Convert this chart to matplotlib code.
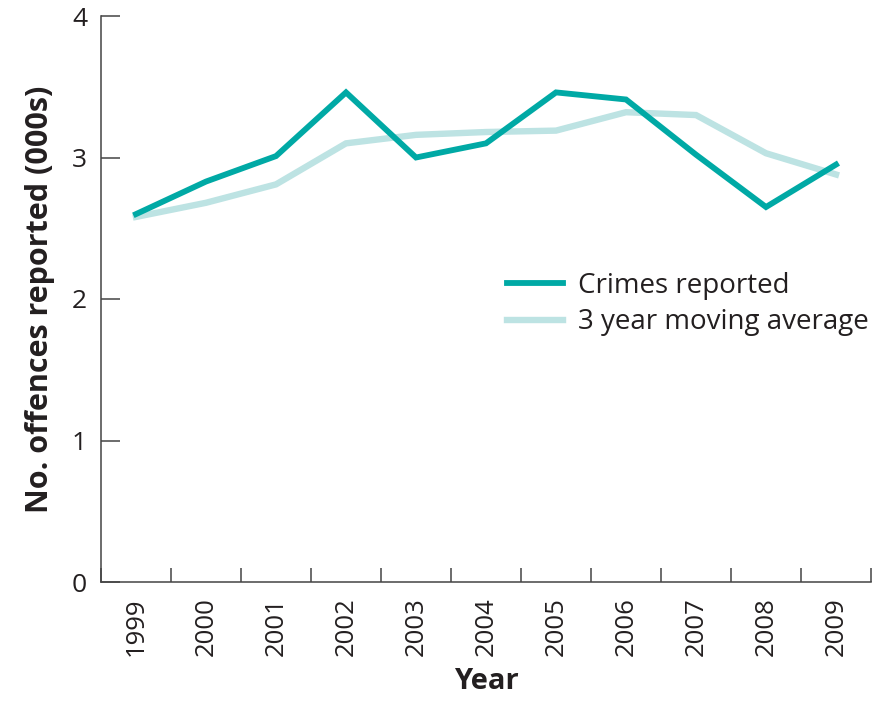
import matplotlib
matplotlib.use("Agg")
import matplotlib.pyplot as plt
import numpy as np

years = ["1999", "2000", "2001", "2002", "2003", "2004", "2005", "2006", "2007", "2008", "2009"]
crimes = [2.60, 2.83, 3.01, 3.46, 3.00, 3.10, 3.46, 3.41, 3.02, 2.65, 2.95]
moving_avg = [2.58, 2.68, 2.81, 3.10, 3.16, 3.18, 3.19, 3.32, 3.30, 3.03, 2.88]
yticks = [0, 1, 2, 3, 4]

plt.rcParams['font.family'] = ['Open Sans', 'DejaVu Sans']

fig = plt.figure(figsize=(8.94, 7.07), dpi=100)
ax = fig.add_axes([101/894, 1-582/707, 770/894, 566/707])

x = np.arange(len(years))
ax.plot(x, moving_avg, color='#bde3e3', lw=4.6, solid_joinstyle='miter', label='3 year moving average', zorder=2)
ax.plot(x, crimes, color='#00a9a5', lw=4.2, solid_joinstyle='miter', label='Crimes reported', zorder=3)

ax.set_xlim(-0.5, len(years) - 0.5)
ax.set_ylim(0, 4)
ax.set_yticks(yticks)
ax.set_yticklabels([str(t) for t in yticks], fontsize=19, color='#231f20')
ax.set_xticks(x)
ax.set_xticklabels(years, rotation=90, fontsize=18.5, color='#231f20')
ax.tick_params(axis='x', which='major', length=0, pad=11)
ax.set_xticks(np.arange(-0.5, len(years)), minor=True)
ax.tick_params(axis='x', which='minor', direction='in', length=10, width=1.1, color='#444444')
ax.tick_params(axis='y', direction='in', length=14, width=1.1, color='#444444', pad=10)

for s in ['top', 'right']:
    ax.spines[s].set_visible(False)
for s in ['left', 'bottom']:
    ax.spines[s].set_color('#444444')
    ax.spines[s].set_linewidth(1.1)

ax.set_ylabel('No. offences reported (000s)', fontsize=22, fontweight='bold', color='#231f20', labelpad=12)
ax.set_xlabel('Year', fontsize=21, fontweight='bold', color='#231f20', labelpad=8)

handles, labels = ax.get_legend_handles_labels()
leg = ax.legend(handles[::-1], labels[::-1], loc='upper left', bbox_to_anchor=(0.495, 0.592),
                frameon=False, fontsize=20, handlelength=2.0, handletextpad=0.55, labelspacing=0.3,
                labelcolor='#231f20')

fig.savefig('out.png', dpi=100)
